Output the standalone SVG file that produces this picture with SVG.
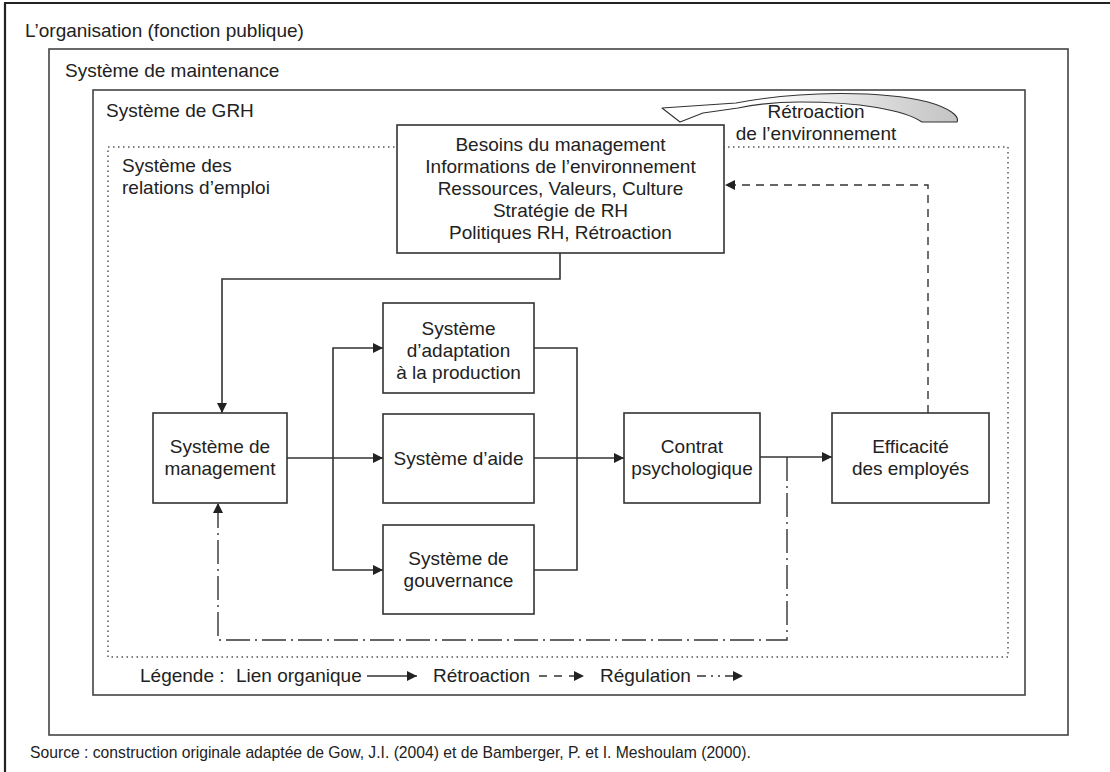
<svg xmlns="http://www.w3.org/2000/svg" width="1110" height="772" viewBox="0 0 1110 772">
  <defs>
    <style>
      .t { font-family: "Liberation Sans", Arial, sans-serif; font-size: 19px; fill: #222; }
      .c { text-anchor: middle; }
      .src { font-family: "Liberation Sans", Arial, sans-serif; font-size: 15.7px; fill: #222; }
      .frame { fill: none; stroke: #444; stroke-width: 1.6; }
      .box { fill: #fff; stroke: #333; stroke-width: 1.6; }
      .dotted { fill: none; stroke: #555; stroke-width: 1.5; stroke-dasharray: 1.5 3.5; }
      .link { fill: none; stroke: #333; stroke-width: 1.6; }
      .fb { fill: none; stroke: #333; stroke-width: 1.4; stroke-dasharray: 8 6; }
      .reg { fill: none; stroke: #333; stroke-width: 1.4; stroke-dasharray: 24 5 2 5; }
    </style>
    <marker id="ah" viewBox="0 0 10 10" refX="10" refY="5" markerWidth="11" markerHeight="10" markerUnits="userSpaceOnUse" orient="auto">
      <path d="M0,0 L10,5 L0,10 z" fill="#222"/>
    </marker>
    <linearGradient id="swoosh" x1="760" y1="0" x2="955" y2="0" gradientUnits="userSpaceOnUse">
      <stop offset="0" stop-color="#ffffff"/>
      <stop offset="1" stop-color="#c4c4c4"/>
    </linearGradient>
  </defs>

  <!-- outer frame: organisation -->
  <g id="organisation">
    <path d="M4,3 H1110 M5,3 V772" fill="none" stroke="#222" stroke-width="2.2"/>
    <text class="t" x="25" y="37">L’organisation (fonction publique)</text>
  </g>

  <!-- maintenance system -->
  <g id="maintenance">
    <rect class="frame" x="49" y="49" width="1019" height="686"/>
    <text class="t" x="65" y="77">Système de maintenance</text>
  </g>

  <!-- HRM system -->
  <g id="grh">
    <rect class="frame" x="93" y="90" width="932" height="605"/>
    <text class="t" x="106" y="117">Système de GRH</text>
  </g>

  <!-- employment relations system -->
  <g id="relations-emploi">
    <rect class="dotted" x="108" y="147" width="900" height="510"/>
    <text class="t" x="122" y="172">Système des</text>
    <text class="t" x="122" y="194">relations d’emploi</text>
  </g>

  <!-- environment feedback swoosh -->
  <g id="retroaction-environnement">
    <path d="M662,108 L736,103 C800,91 880,90 928,102 C949,108 960,116 957,122 L922,122 C904,110 860,102 800,102 C772,102 752,105 738,108 L703,113 L680,122 Z" fill="url(#swoosh)" stroke="#333" stroke-width="1.1" stroke-linejoin="round"/>
    <text class="t c" x="816" y="118">Rétroaction</text>
    <text class="t c" x="816" y="140">de l’environnement</text>
  </g>

  <!-- connectors -->
  <g id="connectors">
    <!-- organic links -->
    <path class="link" d="M560,253 V279 H222 V413" marker-end="url(#ah)"/>
    <path class="link" d="M287,458 H383" marker-end="url(#ah)"/>
    <path class="link" d="M333,458 V348 H383" marker-end="url(#ah)"/>
    <path class="link" d="M333,458 V570 H383" marker-end="url(#ah)"/>
    <path class="link" d="M534,348 H577 V570 H534"/>
    <path class="link" d="M534,458 H624" marker-end="url(#ah)"/>
    <path class="link" d="M760,457 H832" marker-end="url(#ah)"/>
    <!-- feedback -->
    <path class="fb" d="M928,413 V185 H725" marker-end="url(#ah)"/>
    <!-- regulation -->
    <path class="reg" d="M787,457 V640 H218 V503" marker-end="url(#ah)"/>
  </g>

  <g id="besoins">
    <rect class="box" x="397" y="125" width="327" height="128"/>
    <text class="t c" x="560.5" y="151">Besoins du management</text>
    <text class="t c" x="560.5" y="173">Informations de l’environnement</text>
    <text class="t c" x="560.5" y="195">Ressources, Valeurs, Culture</text>
    <text class="t c" x="560.5" y="217">Stratégie de RH</text>
    <text class="t c" x="560.5" y="239">Politiques RH, Rétroaction</text>
  </g>

  <g id="management">
    <rect class="box" x="153" y="413" width="134" height="90"/>
    <text class="t c" x="220" y="453">Système de</text>
    <text class="t c" x="220" y="475">management</text>
  </g>

  <g id="adaptation">
    <rect class="box" x="383" y="303" width="151" height="90"/>
    <text class="t c" x="458.5" y="335">Système</text>
    <text class="t c" x="458.5" y="357">d’adaptation</text>
    <text class="t c" x="458.5" y="379">à la production</text>
  </g>

  <g id="aide">
    <rect class="box" x="383" y="414" width="151" height="89"/>
    <text class="t c" x="458.5" y="465">Système d’aide</text>
  </g>

  <g id="gouvernance">
    <rect class="box" x="383" y="525" width="151" height="89"/>
    <text class="t c" x="458.5" y="565">Système de</text>
    <text class="t c" x="458.5" y="587">gouvernance</text>
  </g>

  <g id="contrat">
    <rect class="box" x="624" y="413" width="136" height="90"/>
    <text class="t c" x="692" y="453">Contrat</text>
    <text class="t c" x="692" y="475">psychologique</text>
  </g>

  <g id="efficacite">
    <rect class="box" x="832" y="413" width="157" height="90"/>
    <text class="t c" x="910.5" y="453">Efficacité</text>
    <text class="t c" x="910.5" y="475">des employés</text>
  </g>

  <!-- legend -->
  <g id="legende">
    <text class="t" x="140" y="682">Légende :</text>
    <text class="t" x="236" y="682">Lien organique</text>
    <path class="link" d="M367,676 H417" marker-end="url(#ah)"/>
    <text class="t" x="433" y="682">Rétroaction</text>
    <path d="M539,676 H584" fill="none" stroke="#333" stroke-width="1.4" stroke-dasharray="8 7" marker-end="url(#ah)"/>
    <text class="t" x="600" y="682">Régulation</text>
    <path d="M697,676 H743" fill="none" stroke="#333" stroke-width="1.4" stroke-dasharray="9 5 2 5 2 5" marker-end="url(#ah)"/>
  </g>

  <text class="src" x="30" y="758">Source : construction originale adaptée de Gow, J.I. (2004) et de Bamberger, P. et I. Meshoulam (2000).</text>
</svg>
